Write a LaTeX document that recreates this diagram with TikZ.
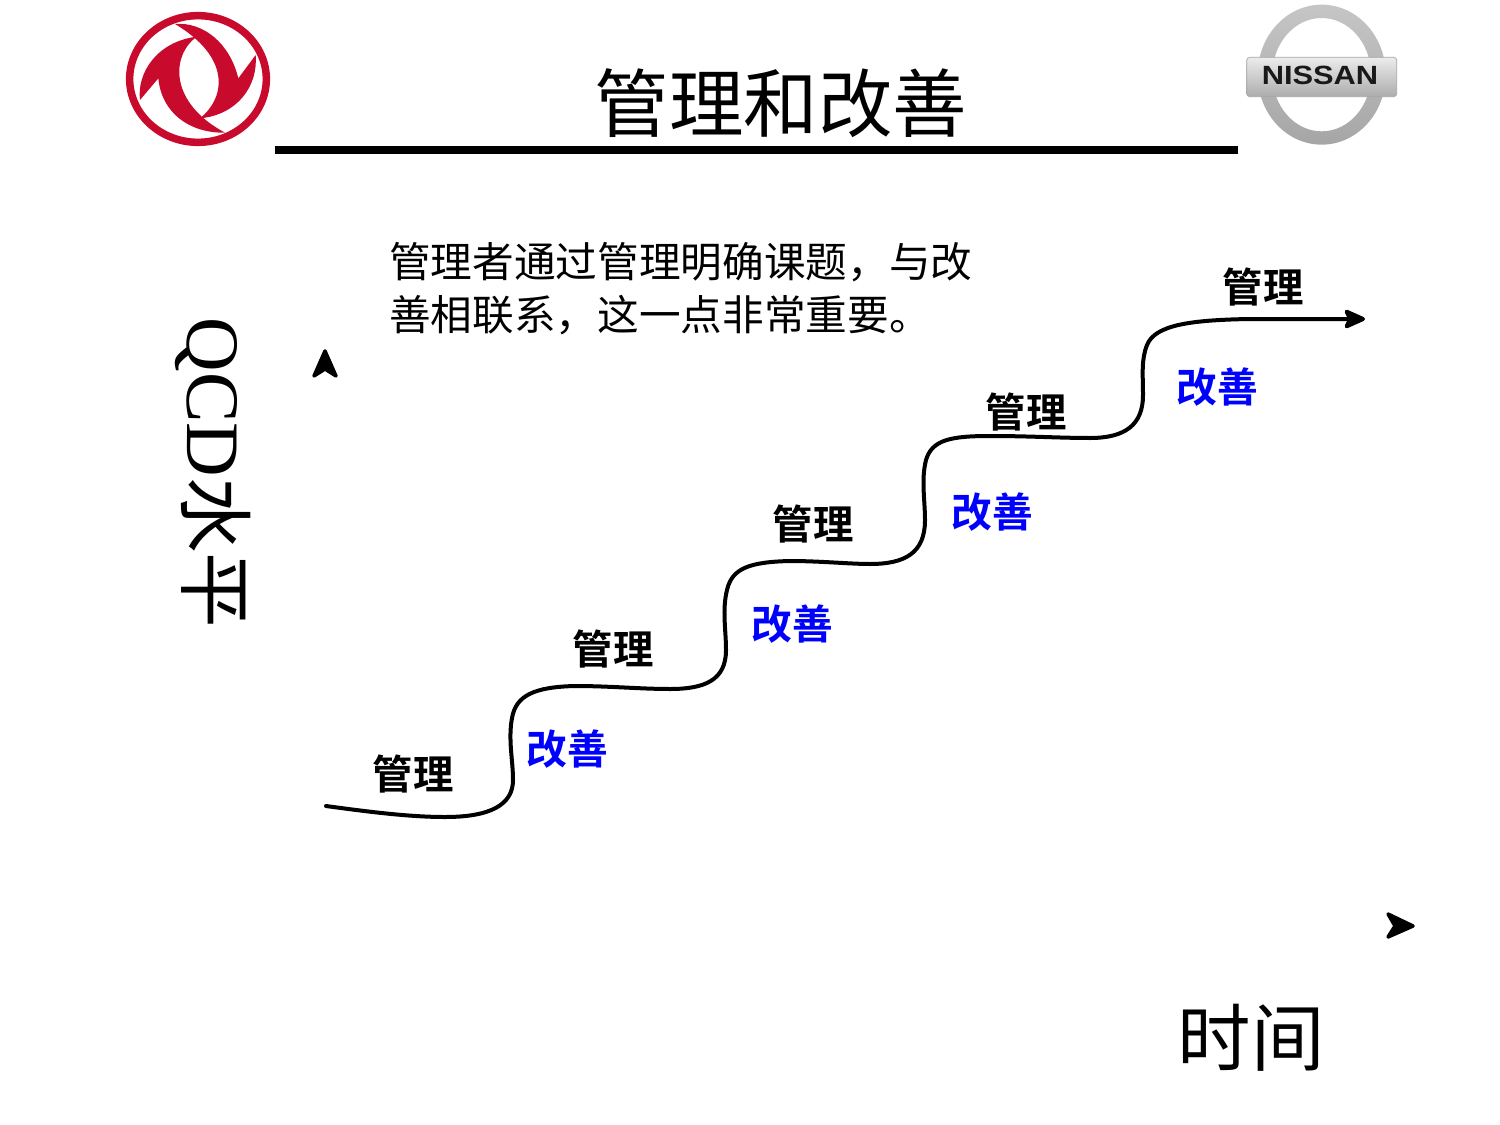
\documentclass[tikz,border=0pt]{standalone}
\usepackage{fontspec}
\setmainfont{Liberation Serif}
\newfontfamily\cjk{Noto Sans CJK SC}
\newfontfamily\cjkb{Noto Sans CJK SC Bold}
\newfontfamily\lsb{Liberation Sans Bold}
\usetikzlibrary{arrows.meta}
\definecolor{dfred}{RGB}{200,10,45}
\tikzset{
  mgmt/.style={font=\cjkb\fontsize{23pt}{26pt}\selectfont, text=black, inner sep=0pt},
  impr/.style={font=\cjkb\fontsize{23.2pt}{26pt}\selectfont, text=blue, inner sep=0pt},
  big/.style={font=\cjk\fontsize{41.8pt}{46pt}\selectfont, inner sep=0pt},
  para/.style={font=\cjk\fontsize{23.7pt}{30pt}\selectfont, align=left, inner sep=0pt, anchor=west},
  axhead/.style={fill=black, draw=black, line width=2pt, line join=round},
  stair/.style={line width=0.08cm, line cap=round, -{Stealth[length=0.5cm,width=0.44cm,inset=0.1cm,round]}},
}
\begin{document}
\begin{tikzpicture}[x=0.02cm,y=-0.02cm]
\useasboundingbox (0,0) rectangle (1500,1125);
\fill[white] (0,0) rectangle (1500,1125);

% Dongfeng logo
\begin{scope}[shift={(90,0)},x=0.02cm/3,y=-0.02cm/3]
  \draw[dfred,line width=0.15cm] (324,237) ellipse [x radius=205,y radius=190];
  \fill[dfred] (255,72) .. controls (340,65) and (420,130) .. (445,235)
     -- (497,165) .. controls (505,260) and (440,345) .. (330,355)
     .. controls (410,290) and (420,170) .. (255,72) -- cycle;
  \fill[dfred] (405,398) .. controls (300,400) and (215,340) .. (205,235)
     -- (150,300) .. controls (140,220) and (200,125) .. (320,110)
     .. controls (240,170) and (240,310) .. (405,398) -- cycle;
\end{scope}

% Nissan logo
\begin{scope}[shift={(1230,0)},x=0.02cm/3,y=-0.02cm/3]
  \shade[even odd rule,top color=gray!45,middle color=white!92!gray,bottom color=gray!70]
     (275,224) ellipse [x radius=192,y radius=210] (275,224) ellipse [x radius=148,y radius=170];
  \shade[top color=white!85!gray,middle color=gray!35,bottom color=gray!65,rounded corners=0.06cm,draw=gray!70,line width=0.4pt]
     (50,172) -- (500,172) -- (500,290) -- (50,290) -- cycle;
  \node[font=\lsb\fontsize{15pt}{16pt}\selectfont,xscale=1.17,inner sep=0pt,text=black!90] (nissan) at (270,226) {NISSAN};
\end{scope}

% Title and rule
\node[big,font=\cjk\fontsize{42.4pt}{46pt}\selectfont] (title) at (781,103) {管理和改善};
\coordinate (ruleL) at (275,150);
\coordinate (ruleR) at (1238,150);
\draw[line width=0.16cm] (ruleL) -- (ruleR);

% Paragraph
\node[para] (note) at (389,289) {管理者通过管理明确课题，与改\\善相联系，这一点非常重要。};

% Axis labels and heads
\node[big,rotate=-90,font=\fontsize{43pt}{46pt}\selectfont] (ylab) at (213,473) {QCD{\cjk 水平}};
\node[big] (xlab) at (1251,1038) {时间};
\fill[axhead] (325,351) -- (336,376) -- (325,369) -- (314,376) -- cycle;
\fill[axhead] (1413,926) -- (1388,937) -- (1395,926) -- (1388,914) -- cycle;

% Stair curve
\coordinate (s) at (326,806);
\coordinate (e) at (1365,319);
\draw[stair] (s) .. controls (370,812) and (410,817) .. (445,817)
  .. controls (490,817) and (513,805) .. (513,780)
  .. controls (513,760) and (508,740) .. (512,718)
  .. controls (516,695) and (535,687) .. (575,686)
  .. controls (610,686) and (640,689) .. (670,689)
  .. controls (705,689) and (726,680) .. (726,650)
  .. controls (726,630) and (722,610) .. (727,590)
  .. controls (732,568) and (750,562) .. (790,561)
  .. controls (820,561) and (850,564) .. (870,564)
  .. controls (905,564) and (925,553) .. (925,520)
  .. controls (925,500) and (921,480) .. (926,460)
  .. controls (932,440) and (950,436) .. (990,436)
  .. controls (1030,436) and (1060,438) .. (1090,438)
  .. controls (1125,438) and (1143,425) .. (1143,395)
  .. controls (1143,375) and (1141,360) .. (1147,345)
  .. controls (1155,325) and (1190,320) .. (1250,319)
  -- (e);

% Labels
\node[mgmt] (m1) at (413,774) {管理};
\node[mgmt] (m2) at (613,649) {管理};
\node[mgmt] (m3) at (813,524) {管理};
\node[mgmt] (m4) at (1026,412) {管理};
\node[mgmt] (m5) at (1263,287) {管理};
\node[impr] (g1) at (567.5,749) {改善};
\node[impr] (g2) at (792.5,624) {改善};
\node[impr] (g3) at (992.5,512) {改善};
\node[impr] (g4) at (1217.5,387) {改善};
\end{tikzpicture}
\end{document}
